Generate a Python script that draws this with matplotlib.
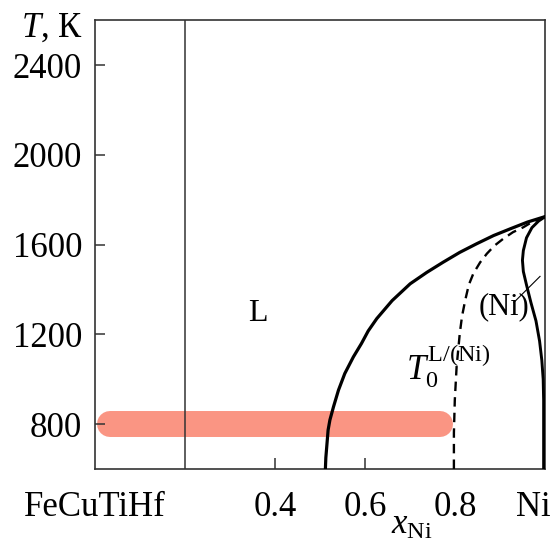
import matplotlib
matplotlib.use("Agg")
import matplotlib.pyplot as plt
import matplotlib.transforms as mtransforms

plt.rcParams['font.family'] = ['Liberation Serif', 'DejaVu Serif']
plt.rcParams['mathtext.fontset'] = 'custom'
plt.rcParams['mathtext.rm'] = 'Liberation Serif'
plt.rcParams['mathtext.it'] = 'Liberation Serif:italic'

# liquidus L
liq_x = [0.512, 0.513, 0.515, 0.518, 0.522, 0.530, 0.541, 0.555, 0.574, 0.592, 0.607, 0.626, 0.660,
         0.700, 0.737, 0.773, 0.810, 0.847, 0.885, 0.922, 0.960, 1.0]
liq_T = [600, 650, 699, 773, 818, 877, 951, 1025, 1099, 1159, 1215, 1270, 1350,
         1425, 1476, 1521, 1565, 1603, 1640, 1670, 1700, 1725]
# T0 L/(Ni) line
t0_x = [0.797, 0.797, 0.799, 0.803, 0.810, 0.815, 0.822, 0.830, 0.840, 0.855, 0.870, 0.887,
        0.906, 0.928, 0.951, 0.970, 0.988, 1.0]
t0_T = [600, 760, 907, 1055, 1203, 1280, 1351, 1420, 1470, 1520, 1559, 1595,
        1625, 1655, 1677, 1700, 1714, 1725]
# solidus (Ni)
sol_x = [1.0, 0.985, 0.970, 0.958, 0.951, 0.949, 0.951, 0.958, 0.968, 0.979, 0.987, 0.992,
         0.995, 0.996, 0.996, 0.996]
sol_T = [1725, 1705, 1675, 1630, 1573, 1530, 1480, 1420, 1340, 1260, 1170, 1084,
         1000, 907, 750, 600]
# leader for (Ni) label
lead_x = [0.930, 0.988]
lead_T = [1342, 1458]
# highlighted band
band_x = [0.034, 0.766]
band_T = [800, 800]
divider_x = 0.2

xticks = [0, 0.4, 0.6, 0.8, 1.0]
xlabels = ['FeCuTiHf', '0.4', '0.6', '0.8', 'Ni']
yticks = [800, 1200, 1600, 2000, 2400]

fig = plt.figure(figsize=(5.56, 5.44), dpi=100)
ax = fig.add_axes([0.170, 0.138, 0.811, 0.825])

ax.plot(band_x, band_T, color='#FA9583', lw=18.7, solid_capstyle='round', zorder=1.5)
ax.axvline(divider_x, color='#333333', lw=1.1, zorder=2)
ax.plot(liq_x, liq_T, color='black', lw=2.3, zorder=3)
ax.plot(t0_x, t0_T, color='black', lw=1.7, ls=(0, (4, 2.6)), zorder=3)
ax.plot(sol_x, sol_T, color='black', lw=2.1, zorder=3)
ax.plot(lead_x, lead_T, color='black', lw=0.8, zorder=3)

ax.set_xlim(0, 1)
ax.set_ylim(600, 2600)

for s in ax.spines.values():
    s.set_color('#333333')
    s.set_linewidth(1.2)

ax.set_yticks(yticks)
ax.set_yticklabels([str(v) for v in yticks])
ax.tick_params(axis='y', direction='in', length=7, width=1.1, pad=9, labelsize=25, color='#333333')
ax.set_xticks(xticks)
ax.set_xticklabels(xlabels)
ax.tick_params(axis='x', direction='in', length=8, width=1.1, pad=16, labelsize=25, color='#333333')
xt = ax.xaxis.get_major_ticks()
for i in (0, 3, 4):
    xt[i].tick1line.set_visible(False)
lbl = xt[4].label1
lbl.set_transform(lbl.get_transform() + mtransforms.ScaledTranslation(-0.12, 0, fig.dpi_scale_trans))

ax.text(0.363, 1293, 'L', fontsize=23, ha='center', va='center')
ax.text(0.909, 1324, '(Ni)', fontsize=22, ha='center', va='center')
ax.text(0.690, 1060, r'$T_0^{\mathrm{L/(Ni)}}$', fontsize=25, ha='left', va='center')
ax.text(0.704, -0.125, r'$x_{\mathrm{Ni}}$', fontsize=25, ha='center', va='center', transform=ax.transAxes)
ax.text(-0.025, 0.983, r'$T$, К', fontsize=25, ha='right', va='center', transform=ax.transAxes)

fig.savefig('out.png', dpi=100)
